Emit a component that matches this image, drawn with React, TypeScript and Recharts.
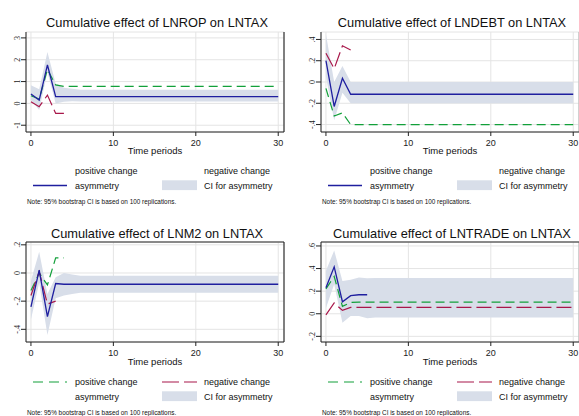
import { ComposedChart, Line, Area, XAxis, YAxis, CartesianGrid, ReferenceLine } from 'recharts';

const periods = [
  0, 1, 2, 3, 4, 5, 6, 7, 8, 9, 10, 11, 12, 13, 14, 15,
  16, 17, 18, 19, 20, 21, 22, 23, 24, 25, 26, 27, 28, 29, 30,
];

// LNROP on LNTAX
const ropAsym = [0.43, 0.15, 1.76, 0.31,
  0.31, 0.31, 0.31, 0.31, 0.31, 0.31, 0.31, 0.31, 0.31,
  0.31, 0.31, 0.31, 0.31, 0.31, 0.31, 0.31, 0.31, 0.31,
  0.31, 0.31, 0.31, 0.31, 0.31, 0.31, 0.31, 0.31, 0.31];
const ropPos = [0.35, 0.2, 1.55, 0.85,
  0.78, 0.78, 0.78, 0.78, 0.78, 0.78, 0.78, 0.78, 0.78,
  0.78, 0.78, 0.78, 0.78, 0.78, 0.78, 0.78, 0.78, 0.78,
  0.78, 0.78, 0.78, 0.78, 0.78, 0.78, 0.78, 0.78, 0.78];
const ropNeg = [0.08, -0.15, 0.38, -0.46, -0.46];
const ropLow = [0.15, -0.3, 1.44, 0.0, 0.07, 0.1,
  0.09, 0.09, 0.09, 0.09, 0.09, 0.09, 0.09, 0.09, 0.09, 0.09, 0.09, 0.09, 0.09,
  0.09, 0.09, 0.09, 0.09, 0.09, 0.09, 0.09, 0.09, 0.09, 0.09, 0.09, 0.09];
const ropHigh = [0.83, 0.65, 2.35, 0.9, 0.72, 0.67,
  0.62, 0.62, 0.62, 0.62, 0.62, 0.62, 0.62, 0.62, 0.62, 0.62, 0.62, 0.62, 0.62,
  0.62, 0.62, 0.62, 0.62, 0.62, 0.62, 0.62, 0.62, 0.62, 0.62, 0.62, 0.62];

// LNDEBT on LNTAX
const debtAsym = [0.2, -0.23, 0.035,
  -0.115, -0.115, -0.115, -0.115, -0.115, -0.115, -0.115,
  -0.115, -0.115, -0.115, -0.115, -0.115, -0.115, -0.115,
  -0.115, -0.115, -0.115, -0.115, -0.115, -0.115, -0.115,
  -0.115, -0.115, -0.115, -0.115, -0.115, -0.115, -0.115];
const debtPos = [-0.06, -0.32, -0.29,
  -0.4, -0.4, -0.4, -0.4, -0.4, -0.4, -0.4,
  -0.4, -0.4, -0.4, -0.4, -0.4, -0.4, -0.4,
  -0.4, -0.4, -0.4, -0.4, -0.4, -0.4, -0.4,
  -0.4, -0.4, -0.4, -0.4, -0.4, -0.4, -0.4];
const debtNeg = [0.27, 0.125, 0.34, 0.3];
const debtLow = [0.05, -0.36, -0.1,
  -0.2, -0.2, -0.2, -0.2, -0.2, -0.2, -0.2,
  -0.2, -0.2, -0.2, -0.2, -0.2, -0.2, -0.2,
  -0.2, -0.2, -0.2, -0.2, -0.2, -0.2, -0.2,
  -0.2, -0.2, -0.2, -0.2, -0.2, -0.2, -0.2];
const debtHigh = [0.45, 0.0, 0.15,
  0, 0, 0, 0, 0, 0, 0,
  0, 0, 0, 0, 0, 0, 0,
  0, 0, 0, 0, 0, 0, 0,
  0, 0, 0, 0, 0, 0, 0];

// LNM2 on LNTAX
const m2Asym = [-0.24, 0.02, -0.31, -0.075,
  -0.08, -0.08, -0.08, -0.08, -0.08, -0.08, -0.08, -0.08, -0.08,
  -0.08, -0.08, -0.08, -0.08, -0.08, -0.08, -0.08, -0.08, -0.08,
  -0.08, -0.08, -0.08, -0.08, -0.08, -0.08, -0.08, -0.08, -0.08];
const m2Pos = [-0.125, 0.0, -0.085, 0.107, 0.107];
const m2Neg = [-0.16, 0.01, -0.22, -0.2];
const m2Low = [-0.33, -0.07, -0.44, -0.18, -0.16, -0.15,
  -0.14, -0.14, -0.14, -0.14, -0.14, -0.14, -0.14, -0.14, -0.14, -0.14, -0.14, -0.14, -0.14,
  -0.14, -0.14, -0.14, -0.14, -0.14, -0.14, -0.14, -0.14, -0.14, -0.14, -0.14, -0.14];
const m2High = [-0.055, 0.15, -0.15, -0.03, 0.0, -0.01,
  -0.02, -0.02, -0.02, -0.02, -0.02, -0.02, -0.02, -0.02, -0.02, -0.02, -0.02, -0.02, -0.02,
  -0.02, -0.02, -0.02, -0.02, -0.02, -0.02, -0.02, -0.02, -0.02, -0.02, -0.02, -0.02];

// LNTRADE on LNTAX
const tradeAsym = [0.23, 0.415, 0.106, 0.16, 0.168, 0.168];
const tradePos = [0.22, 0.33, 0.065, 0.1,
  0.103, 0.103, 0.103, 0.103, 0.103, 0.103, 0.103, 0.103, 0.103,
  0.103, 0.103, 0.103, 0.103, 0.103, 0.103, 0.103, 0.103, 0.103,
  0.103, 0.103, 0.103, 0.103, 0.103, 0.103, 0.103, 0.103, 0.103];
const tradeNeg = [-0.01, 0.095, 0.03, 0.056,
  0.056, 0.056, 0.056, 0.056, 0.056, 0.056, 0.056, 0.056, 0.056,
  0.056, 0.056, 0.056, 0.056, 0.056, 0.056, 0.056, 0.056, 0.056,
  0.056, 0.056, 0.056, 0.056, 0.056, 0.056, 0.056, 0.056, 0.056];
const tradeLow = [0.05, 0.26, -0.08, -0.02, -0.02, -0.04,
  -0.033, -0.033, -0.033, -0.033, -0.033, -0.033, -0.033, -0.033, -0.033, -0.033, -0.033, -0.033, -0.033,
  -0.033, -0.033, -0.033, -0.033, -0.033, -0.033, -0.033, -0.033, -0.033, -0.033, -0.033, -0.033];
const tradeHigh = [0.38, 0.56, 0.29, 0.3, 0.32, 0.315,
  0.316, 0.316, 0.316, 0.316, 0.316, 0.316, 0.316, 0.316, 0.316, 0.316, 0.316, 0.316, 0.316,
  0.316, 0.316, 0.316, 0.316, 0.316, 0.316, 0.316, 0.316, 0.316, 0.316, 0.316, 0.316];

const xTicks = [0, 10, 20, 30];

const BLUE = '#1f1f9f';
const GREEN = '#12a03a';
const RED = '#a8174a';
const BAND = '#d8dee9';
const FONT = '"Liberation Sans", Arial, sans-serif';

const buildRows = (asym: number[], pos: number[], neg: number[], low: number[], high: number[]) =>
  periods.map((t, i) => ({
    t,
    asym: asym[i] ?? null,
    pos: pos[i] ?? null,
    neg: neg[i] ?? null,
    ci: [low[i], high[i]],
  }));

// Stata style labels: .4, -.2 ...
const fmt = (v: number) => String(v).replace('0.', '.');

const YTick = (props: any) => {
  const { x, y, payload } = props;
  const bx = x + 1;
  return (
    <text x={bx} y={y} transform={`rotate(-90 ${bx} ${y})`} textAnchor="middle" fontSize={8} fill="#222">
      {fmt(payload.value)}
    </text>
  );
};

const panels = [
  {
    title: 'Cumulative effect of LNROP on LNTAX',
    ox: 0, oy: 0,
    rows: buildRows(ropAsym, ropPos, ropNeg, ropLow, ropHigh),
    yDomain: [-1.31, 3.27], yTicks: [-1, 0, 1, 2, 3],
    lowerKeys: false, topBorder: false, rightColor: '#333',
  },
  {
    title: 'Cumulative effect of LNDEBT on LNTAX',
    ox: 294.5, oy: 0,
    rows: buildRows(debtAsym, debtPos, debtNeg, debtLow, debtHigh),
    yDomain: [-0.47, 0.47], yTicks: [-0.4, -0.2, 0, 0.2, 0.4],
    lowerKeys: false, topBorder: false, rightColor: '#bbb',
  },
  {
    title: 'Cumulative effect of LNM2 on LNTAX',
    ox: 0, oy: 210.6,
    rows: buildRows(m2Asym, m2Pos, m2Neg, m2Low, m2High),
    yDomain: [-0.49, 0.22], yTicks: [-0.4, -0.2, 0, 0.2],
    lowerKeys: true, topBorder: true, rightColor: '#333',
  },
  {
    title: 'Cumulative effect of LNTRADE on LNTAX',
    ox: 294.5, oy: 210.6,
    rows: buildRows(tradeAsym, tradePos, tradeNeg, tradeLow, tradeHigh),
    yDomain: [-0.25, 0.635], yTicks: [-0.2, 0, 0.2, 0.4, 0.6],
    lowerKeys: true, topBorder: true, rightColor: '#bbb',
  },
];

function Panel({ p }: { p: (typeof panels)[number] }) {
  const xDomain = [-0.6, 30.7];
  return (
    <div style={{ position: 'absolute', left: p.ox, top: p.oy, width: 290, height: 210 }}>
      <div style={{ position: 'absolute', left: 0, top: 26.7 }}>
        <ComposedChart width={290} height={125} data={p.rows} margin={{ top: 5, right: 6, bottom: 0, left: 0 }}>
          <CartesianGrid stroke="#e4e4e4" strokeWidth={1} />
          <XAxis
            type="number"
            dataKey="t"
            domain={xDomain}
            ticks={xTicks}
            interval={0}
            allowDataOverflow
            height={20}
            tickSize={4}
            tickMargin={4}
            stroke="#222"
            tick={{ fontSize: 9, fill: '#222', fontFamily: FONT }}
          />
          <YAxis
            type="number"
            domain={p.yDomain}
            ticks={p.yTicks}
            interval={0}
            allowDataOverflow
            width={26}
            tickSize={5}
            stroke="#222"
            tick={<YTick />}
          />
          <Area dataKey="ci" stroke="none" fill={BAND} fillOpacity={1} isAnimationActive={false} dot={false} activeDot={false} />
          <Line dataKey="pos" stroke={GREEN} strokeWidth={1.2} strokeDasharray="9 5" dot={false} isAnimationActive={false} />
          <Line dataKey="neg" stroke={RED} strokeWidth={1.2} strokeDasharray="15 5" dot={false} isAnimationActive={false} />
          <Line dataKey="asym" stroke={BLUE} strokeWidth={1.3} dot={false} isAnimationActive={false} />
          <ReferenceLine x={xDomain[1]} stroke={p.rightColor} strokeWidth={1.2} />
          {p.topBorder && <ReferenceLine y={p.yDomain[1]} stroke="#222" strokeWidth={1.2} />}
        </ComposedChart>
      </div>
      <svg width={290} height={210} style={{ position: 'absolute', left: 0, top: 0, pointerEvents: 'none' }} fontFamily={FONT}>
        <text x={157} y={26.6} textAnchor="middle" fontSize={12.8} fill="#111">{p.title}</text>
        <text x={155} y={154.4} textAnchor="middle" fontSize={9.5} fill="#111">Time periods</text>
        {p.lowerKeys && (
          <>
            <line x1={33} x2={67} y1={171} y2={171} stroke={GREEN} strokeWidth={1.2} strokeDasharray="10 6" />
            <line x1={162} x2={197} y1={171} y2={171} stroke={RED} strokeWidth={1.2} strokeDasharray="17 5" />
          </>
        )}
        <text x={75} y={174.2} fontSize={9} fill="#111">positive change</text>
        <text x={204} y={174.2} fontSize={9} fill="#111">negative change</text>
        {!p.lowerKeys && <line x1={33} x2={67} y1={185.5} y2={185.5} stroke={BLUE} strokeWidth={1.3} />}
        <text x={75} y={188.7} fontSize={9} fill="#111">asymmetry</text>
        <rect x={162} y={180.3} width={35} height={9.8} fill={BAND} />
        <text x={204} y={188.7} fontSize={9} fill="#111">CI for asymmetry</text>
        <text x={27} y={203.8} fontSize={6.4} fill="#111">Note: 95% bootstrap CI is based on 100 replications.</text>
      </svg>
    </div>
  );
}

export default function App() {
  return (
    <div style={{ position: 'fixed', left: 0, top: 0, width: 579, height: 416, background: '#fff', overflow: 'hidden' }}>
      {panels.map((p) => (
        <Panel key={p.title} p={p} />
      ))}
    </div>
  );
}
